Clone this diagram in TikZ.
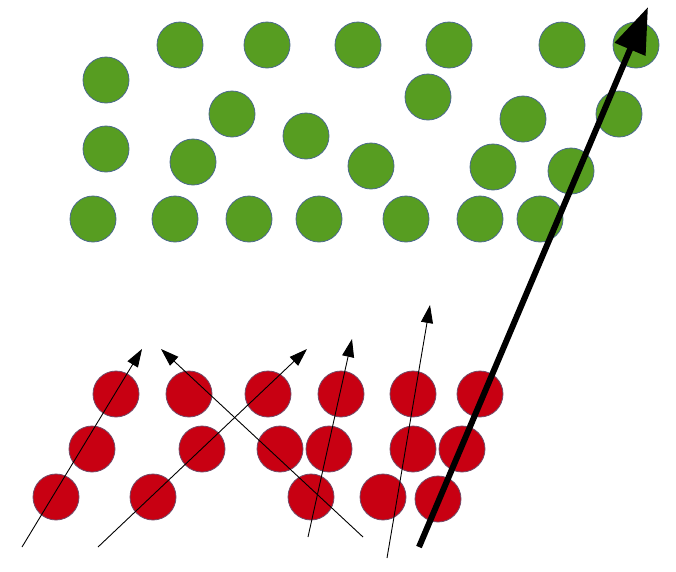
\documentclass[tikz,border=0pt]{standalone}
\usetikzlibrary{arrows.meta}
\definecolor{gfill}{RGB}{87,157,33}
\definecolor{rfill}{RGB}{200,0,18}
\definecolor{ring}{RGB}{75,105,140}
\begin{document}
\begin{tikzpicture}[x=1pt,y=-1pt,
  gball/.style={circle,fill=gfill,draw=ring,line width=0.8pt,minimum size=46pt,inner sep=0pt},
  rball/.style={circle,fill=rfill,draw=ring!70!rfill,line width=0.8pt,minimum size=46pt,inner sep=0pt},
  thinarrow/.style={line width=0.9pt,-{Triangle[length=18pt,width=12pt]}},
  thickarrow/.style={line width=6pt,-{Triangle[length=46pt,width=32pt]}}]
\useasboundingbox (0,0) rectangle (676,571);
% green balls
\foreach \x/\y [count=\i] in {180/45,267/45,358/45,449/45,562/45,636/45,
  106/80,232/114,428/97,523/119,619/114,
  106/149,193/162,306/136,371/166,493/167,571/171,
  93/219,175/219,249/219,319/219,406/219,480/219,540/219}
  \node[gball] (g\i) at (\x,\y) {};
% red balls
\foreach \x/\y [count=\i] in {116/394,189/394,268/394,341/394,413/394,480/394,
  92/449,202/449,280/449,329/449,413/449,462/449,
  56/497,153/497,311/497,383/497,438/499}
  \node[rball] (r\i) at (\x,\y) {};
% arrow end points
\coordinate (a1s) at (22,547);  \coordinate (a1e) at (142,349);
\coordinate (a2s) at (98,547);  \coordinate (a2e) at (307,349);
\coordinate (a3s) at (363,537); \coordinate (a3e) at (161,349);
\coordinate (a4s) at (308,537); \coordinate (a4e) at (352,339);
\coordinate (a5s) at (387,558); \coordinate (a5e) at (430,305);
\coordinate (a6s) at (419,547); \coordinate (a6e) at (648,7);
\draw[thinarrow] (a1s) -- (a1e);
\draw[thinarrow] (a2s) -- (a2e);
\draw[thinarrow] (a3s) -- (a3e);
\draw[thinarrow] (a4s) -- (a4e);
\draw[thinarrow] (a5s) -- (a5e);
\draw[thickarrow] (a6s) -- (a6e);
\end{tikzpicture}
\end{document}
